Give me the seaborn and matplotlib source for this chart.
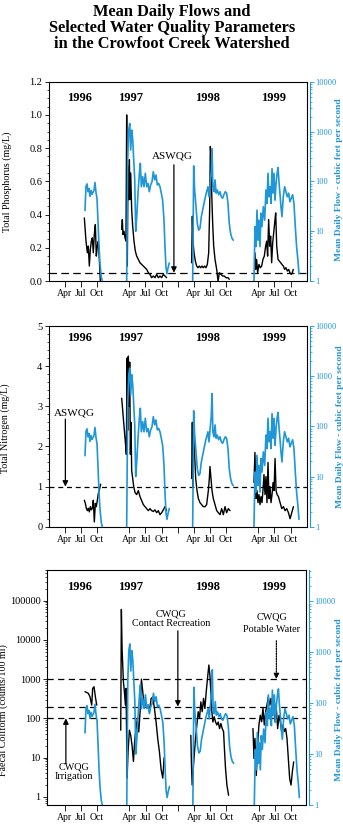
import numpy as np
import pandas as pd
import matplotlib
matplotlib.use("Agg")
import matplotlib.pyplot as plt
import matplotlib.transforms as mtransforms
from matplotlib.ticker import FixedLocator, LogLocator, NullFormatter, MultipleLocator
import seaborn as sns

# ---------------- data (x = months since 1 Jan 1996) ----------------
# Mean daily flow (cfs), same series in all panels
flow_1996_m = [6.75, 6.94, 7.13, 7.31, 7.50, 7.68, 7.87, 8.06, 8.24, 8.43, 8.61, 8.80, 8.99, 9.18, 9.36, 9.55, 9.79, 9.98]
flow_1996 = [26, 80, 89, 62, 72, 50, 66, 55, 60, 66, 95, 60, 45, 15, 5, 2.2, 1.2, 1.0]
flow_1997_m = [14.51, 14.70, 14.89, 15.08, 15.26, 15.45, 15.64, 15.82, 16.01, 16.19, 16.38, 16.62, 16.87, 17.05,
               17.24, 17.49, 17.73, 17.98, 18.23, 18.48, 18.72, 18.97, 19.22, 19.47, 19.72, 19.96, 20.21, 20.46,
               20.71, 20.95, 21.20, 21.45, 21.64, 21.82, 22.01, 22.19, 22.44]
flow_1997 = [1.0, 270, 1070, 1450, 425, 1070, 680, 270, 107, 10, 19.5, 58, 145, 230, 78, 124, 78, 145, 78, 91,
             62, 85, 98, 156, 107, 134, 85, 91, 78, 58, 42, 17, 4.9, 1.9, 1.4, 1.8, 2.3]
flow_1998_m = [26.79, 26.98, 27.16, 27.41, 27.66, 27.91, 28.15, 28.40, 28.65, 28.90, 29.15, 29.39, 29.64, 29.83,
               30.05, 30.25, 30.40, 30.55, 30.75, 30.95, 31.15, 31.38, 31.62, 31.87, 32.12, 32.37, 32.61, 32.86,
               33.11, 33.36, 33.61, 33.85, 34.10, 34.35]
flow_1998 = [1.0, 204, 67, 31, 14, 10.5, 11.4, 19.5, 26.5, 36, 49, 62, 78, 49, 91, 160, 450, 78, 62, 107, 58, 67,
             54, 62, 49, 46, 54, 62, 58, 36, 14, 9.1, 7.2, 6.6]
flow_1999_m = [38.20, 38.38, 38.57, 38.76, 38.95, 39.13, 39.32, 39.50, 39.69, 39.94, 40.19, 40.43, 40.62, 40.81,
               41.00, 41.18, 41.37, 41.56, 41.75, 41.93, 42.12, 42.31, 42.50, 42.68, 42.87, 43.03, 43.22, 43.41,
               43.65, 43.90, 44.15, 44.40, 44.65, 44.89, 45.14, 45.39, 45.64, 45.89, 46.13, 46.38, 46.57]
flow_1999 = [1.0, 12.3, 4.9, 26.5, 6.6, 16.7, 4.9, 23, 12.3, 31, 16.7, 67, 36, 145, 49, 78, 36, 180, 58, 145, 42,
             91, 145, 190, 91, 58, 31, 19.5, 49, 78, 62, 49, 58, 39, 46, 54, 36, 12.3, 4.9, 2.6, 1.4]

# Total phosphorus (mg/L)
tp_1996_m = [6.63, 6.94, 7.19, 7.37, 7.56, 7.75, 7.93, 8.12, 8.30, 8.49, 8.68, 8.86, 9.05, 9.24, 9.42, 9.61]
tp_1996 = [0.38, 0.24, 0.17, 0.21, 0.09, 0.19, 0.24, 0.26, 0.17, 0.28, 0.34, 0.15, 0.21, 0.24, 0.13, 0.0]
tp_1997_m = [13.58, 13.70, 13.82, 14.01, 14.20, 14.38, 14.51, 14.63, 14.76, 14.88, 15.01, 15.13, 15.26, 15.44,
             15.63, 15.87, 16.12, 16.37, 16.68, 16.99, 17.30, 17.61, 17.92, 18.23, 18.54, 18.85, 19.16, 19.47,
             19.78, 20.09, 20.40, 20.71, 21.02, 21.33, 21.64, 21.94]
tp_1997 = [0.31, 0.37, 0.28, 0.30, 0.26, 0.24, 1.0, 0.09, 0.69, 0.49, 0.73, 0.49, 0.65, 0.43, 0.33, 0.24, 0.18,
           0.15, 0.13, 0.11, 0.10, 0.09, 0.08, 0.07, 0.05, 0.04, 0.02, 0.03, 0.02, 0.04, 0.02, 0.03, 0.02, 0.04,
           0.03, 0.02]
tp_1998_m = [26.60, 26.73, 26.85, 27.04, 27.29, 27.54, 27.78, 28.03, 28.28, 28.53, 28.77, 29.02, 29.27, 29.52,
             29.77, 29.95, 30.08, 30.20, 30.33, 30.51, 30.70, 30.95, 31.26, 31.51, 31.76, 32.07, 32.38, 32.68,
             32.99, 33.37, 33.61]
tp_1998 = [0.11, 0.39, 0.24, 0.17, 0.12, 0.09, 0.08, 0.09, 0.08, 0.09, 0.08, 0.09, 0.08, 0.10, 0.17, 0.43, 0.81,
           0.75, 0.53, 0.35, 0.21, 0.13, 0.07, 0.0, 0.05, 0.04, 0.03, 0.03, 0.02, 0.02, 0.01]
tp_1999_m = [38.38, 38.51, 38.69, 38.88, 39.13, 39.38, 39.63, 39.87, 40.12, 40.37, 40.56, 40.74, 40.93, 41.12,
             41.30, 41.49, 41.68, 41.87, 42.05, 42.24, 42.43, 42.68, 42.92, 43.17, 43.41, 43.66, 43.91, 44.15,
             44.40, 44.65, 44.89, 45.14, 45.33, 45.51]
tp_1999 = [0.17, 0.07, 0.13, 0.05, 0.10, 0.08, 0.09, 0.13, 0.15, 0.21, 0.24, 0.15, 0.37, 0.21, 0.27, 0.11, 0.23,
           0.29, 0.35, 0.41, 0.21, 0.13, 0.12, 0.11, 0.10, 0.09, 0.07, 0.08, 0.06, 0.07, 0.05, 0.04, 0.05, 0.07]

# Total nitrogen (mg/L)
tn_1996_m = [6.63, 6.82, 7.00, 7.19, 7.37, 7.56, 7.75, 7.93, 8.12, 8.30, 8.49, 8.68, 8.86, 9.05, 9.24, 9.42, 9.67]
tn_1996 = [0.66, 0.58, 0.46, 0.40, 0.46, 0.37, 0.50, 0.42, 0.46, 0.66, 0.12, 0.58, 0.50, 0.66, 0.83, 0.91, 1.06]
tn_1997_m = [13.58, 13.77, 13.95, 14.14, 14.33, 14.45, 14.57, 14.70, 14.82, 14.95, 15.07, 15.20, 15.32, 15.44,
             15.63, 15.82, 16.07, 16.37, 16.68, 16.99, 17.30, 17.61, 17.92, 18.23, 18.54, 18.85, 19.16, 19.47,
             19.78, 20.09, 20.40, 20.71, 21.02, 21.33, 21.64, 21.94]
tn_1997 = [3.2, 2.9, 2.6, 2.3, 2.0, 1.8, 4.2, 2.4, 4.25, 3.0, 4.1, 1.8, 2.6, 1.4, 1.2, 1.0, 0.85, 0.8, 0.9, 0.75,
           0.65, 0.55, 0.5, 0.45, 0.4, 0.45, 0.4, 0.38, 0.42, 0.35, 0.4, 0.3, 0.35, 0.42, 0.5, 0.4]
tn_1998_m = [26.60, 26.73, 26.85, 26.98, 27.16, 27.35, 27.60, 27.85, 28.15, 28.46, 28.77, 29.09, 29.39, 29.71,
             29.89, 30.01, 30.20, 30.39, 30.63, 30.95, 31.26, 31.57, 31.88, 32.19, 32.50, 32.81, 33.11, 33.43, 33.74]
tn_1998 = [1.2, 2.6, 1.0, 2.5, 1.8, 1.2, 0.9, 0.7, 0.6, 0.55, 0.5, 0.5, 0.55, 0.9, 1.2, 1.5, 1.2, 0.9, 0.7, 0.55,
           0.4, 0.35, 0.3, 0.45, 0.3, 0.5, 0.35, 0.45, 0.4]
tn_1999_m = [38.20, 38.38, 38.57, 38.76, 38.95, 39.13, 39.32, 39.50, 39.69, 39.87, 40.06, 40.25, 40.43, 40.62,
             40.81, 40.99, 41.18, 41.37, 41.56, 41.75, 41.93, 42.12, 42.31, 42.50, 42.75, 43.06, 43.37, 43.68,
             43.99, 44.30, 44.61, 44.92, 45.23, 45.54]
tn_1999 = [1.1, 1.85, 0.7, 0.9, 0.6, 0.8, 0.55, 0.75, 0.6, 0.9, 1.3, 0.8, 1.25, 0.6, 1.6, 0.7, 1.0, 0.6, 0.8, 1.1,
           0.9, 1.7, 0.9, 0.8, 0.75, 0.6, 0.45, 0.5, 0.4, 0.45, 0.35, 0.2, 0.35, 0.5]

# Faecal coliform (counts/100 ml)
fc_1996_m = [6.75, 7.37, 7.68, 8.00, 8.18, 8.43, 8.68, 8.93]
fc_1996 = [480, 435, 355, 218, 580, 640, 355, 218]
fc_1997_m = [13.39, 13.51, 13.64, 13.89, 14.07, 14.26, 14.38, 14.57, 14.75, 15.00, 15.25, 15.50, 15.75, 16.00,
             16.24, 16.49, 16.74, 16.99, 17.23, 17.48, 17.73, 17.98, 18.23, 18.47, 18.72, 19.03, 19.34, 19.65,
             19.96, 20.27, 20.58, 20.89, 21.20, 21.45]
fc_1997 = [50, 60000, 6000, 850, 480, 220, 580, 3, 14, 50, 37, 20, 8, 30, 55, 100, 45, 150, 1000, 480, 220, 260,
           180, 220, 150, 320, 350, 180, 80, 30, 14, 5, 3, 10]
fc_1998_m = [26.41, 26.53, 26.66, 26.91, 27.09, 27.28, 27.53, 27.78, 28.03, 28.27, 28.52, 28.77, 29.02, 29.27,
             29.51, 29.76, 29.95, 30.13, 30.32, 30.51, 30.75, 31.00, 31.25, 31.50, 31.75, 31.99, 32.24, 32.49,
             32.68, 32.86, 33.11, 33.42]
fc_1998 = [37, 6.5, 2, 6.5, 14, 31, 68, 148, 100, 263, 148, 324, 178, 479, 1050, 2290, 1260, 479, 148, 81, 110,
           81, 68, 81, 55, 74, 55, 46, 14, 5.2, 2, 1.1]
fc_1999_m = [37.95, 38.14, 38.32, 38.57, 38.82, 39.06, 39.31, 39.56, 39.81, 40.06, 40.30, 40.55, 40.80, 41.05,
             41.30, 41.55, 41.79, 42.04, 42.29, 42.54, 42.79, 43.03, 43.28, 43.53, 43.78, 44.03, 44.27, 44.52,
             44.77, 45.02, 45.27, 45.51]
fc_1999 = [55, 9.5, 31, 3.5, 21, 68, 120, 82, 180, 68, 148, 218, 355, 218, 324, 120, 218, 82, 180, 55, 120, 82,
           46, 68, 46, 55, 31, 9.5, 2.9, 2, 4.4, 7.8]

years = ["1996", "1997", "1998", "1999"]
year_label_m = [5.75, 15.3, 29.5, 41.75]
tick_m = [3, 6, 9, 15, 18, 21, 24, 27, 30, 33, 39, 42, 45]
tick_lab = ["Apr", "Jul", "Oct", "Apr", "Jul", "Oct", "", "Apr", "Jul", "Oct", "Apr", "Jul", "Oct"]

tp_guideline = 0.05
tn_guideline = 1.0
fc_guidelines = [1000, 200, 100]

# ---------------- helpers ----------------
def make_df(pairs):
    frames = []
    for i, (m, v) in enumerate(pairs):
        frames.append(pd.DataFrame({"m": m, "v": v, "seg": i}))
    return pd.concat(frames, ignore_index=True)

flow_df = make_df([(flow_1996_m, flow_1996), (flow_1997_m, flow_1997),
                   (flow_1998_m, flow_1998), (flow_1999_m, flow_1999)])
tp_df = make_df([(tp_1996_m, tp_1996), (tp_1997_m, tp_1997), (tp_1998_m, tp_1998), (tp_1999_m, tp_1999)])
tn_df = make_df([(tn_1996_m, tn_1996), (tn_1997_m, tn_1997), (tn_1998_m, tn_1998), (tn_1999_m, tn_1999)])
fc_df = make_df([(fc_1996_m, fc_1996), (fc_1997_m, fc_1997), (fc_1998_m, fc_1998), (fc_1999_m, fc_1999)])

sns.set_style("ticks")
plt.rcParams["font.family"] = ["Liberation Serif", "DejaVu Serif"]
plt.rcParams.update({"axes.linewidth": 0.8, "text.color": "black", "axes.labelcolor": "black",
                     "xtick.color": "black", "ytick.color": "black", "axes.edgecolor": "black"})

BLUE = "#1e96d7"
fig = plt.figure(figsize=(3.43, 8.27), dpi=100)
fig.patch.set_facecolor("white")

fig.text(0.502, 1 - 27.5 / 827, "Mean Daily Flows and\nSelected Water Quality Parameters\nin the Crowfoot Creek Watershed",
         ha="center", va="center", fontsize=11.8, fontweight="bold", linespacing=1.0, color="black")

specs = [
    dict(rect=[0.142, 0.6602, 0.752, 0.241], df=tp_df, ylabel="Total Phosphorus (mg/L)", xlim=(0, 48),
         flow_top=10000, yr_y=0.918, label_x=-0.142, label_y=0.5, rlabel_x=1.11, rlabel_y=0.51),
    dict(rect=[0.142, 0.3631, 0.752, 0.2427], df=tn_df, ylabel="Total Nitrogen (mg/L)", xlim=(0, 48),
         flow_top=10000, yr_y=0.939, label_x=-0.15, label_y=0.49, rlabel_x=1.113, rlabel_y=0.5),
    dict(rect=[0.136, 0.0266, 0.755, 0.284], df=fc_df, ylabel="Faecal Coliform (counts/100 ml)", xlim=(-0.37, 47.73),
         flow_top=40700, yr_y=0.929, label_x=-0.148, label_y=0.405, rlabel_x=1.115, rlabel_y=0.45),
]

axes = []
for i, s in enumerate(specs):
    ax = fig.add_axes(s["rect"])
    sns.lineplot(data=s["df"], x="m", y="v", units="seg", estimator=None, sort=False,
                 color="black", lw=1.0, ax=ax, legend=False)
    ax.set_xlim(*s["xlim"])
    ax.set_xlabel("")
    ax.set_ylabel(s["ylabel"], fontsize=7.2, color="black")
    ax.yaxis.set_label_coords(s["label_x"], s["label_y"])
    for sp in ax.spines.values():
        sp.set_color("black")
        sp.set_linewidth(0.8)
    ax.xaxis.set_major_locator(FixedLocator(tick_m))
    ax.set_xticklabels(tick_lab)
    ax.tick_params(axis="x", direction="out", length=4, width=0.6, labelsize=7, pad=2, colors="black")
    ax.tick_params(axis="y", direction="out", length=3, width=0.6, labelsize=7.5, pad=1.5, colors="black")
    ax.tick_params(axis="y", which="minor", direction="out", length=1.8, width=0.5, colors="black")

    tw = ax.twinx()
    sns.lineplot(data=flow_df, x="m", y="v", units="seg", estimator=None, sort=False,
                 color=BLUE, lw=1.2, ax=tw, legend=False)
    tw.set_yscale("log")
    tw.set_ylim(1, s["flow_top"])
    tw.set_xlim(*s["xlim"])
    tw.set_xlabel("")
    for k in ["left", "top", "bottom"]:
        tw.spines[k].set_visible(False)
    tw.spines["right"].set_position(("outward", 2.5))
    tw.spines["right"].set_color(BLUE)
    tw.spines["right"].set_linewidth(0.8)
    tw.set_yticks([1, 10, 100, 1000, 10000])
    tw.set_yticklabels(["1", "10", "100", "1000", "10000"])
    tw.yaxis.set_minor_locator(LogLocator(base=10, subs=np.arange(2, 10), numticks=20))
    tw.yaxis.set_minor_formatter(NullFormatter())
    tw.tick_params(axis="y", which="both", colors=BLUE, labelsize=6, pad=1)
    tw.tick_params(axis="y", which="major", direction="out", length=3, width=0.6)
    tw.tick_params(axis="y", which="minor", direction="out", length=1.6, width=0.5)
    tw.set_ylabel("Mean Daily Flow - cubic feet per second", color=BLUE, fontsize=6.8, fontweight="bold")
    tw.yaxis.set_label_coords(s["rlabel_x"], s["rlabel_y"])
    tw.set_ylim(1, s["flow_top"])

    trans = mtransforms.blended_transform_factory(ax.transData, ax.transAxes)
    for yl, ym in zip(years, year_label_m):
        ax.text(ym, s["yr_y"], yl, transform=trans, ha="center", va="center",
                fontsize=9, fontweight="bold", color="black")
    axes.append((ax, tw))

arrow_kw = dict(arrowstyle="-|>", color="black", lw=0.9, mutation_scale=8, shrinkA=0, shrinkB=0)

# Panel 1: phosphorus
ax, tw = axes[0]
ax.set_ylim(0, 1.2)
ax.yaxis.set_major_locator(FixedLocator([0, 0.2, 0.4, 0.6, 0.8, 1.0, 1.2]))
ax.set_yticklabels(["0.0", "0.2", "0.4", "0.6", "0.8", "1.0", "1.2"])
ax.yaxis.set_minor_locator(MultipleLocator(0.05))
ax.axhline(tp_guideline, color="black", lw=0.9, ls=(0, (6, 3.5)))
ax.text(23.0, 0.75, "ASWQG", ha="center", va="center", fontsize=8, color="black")
ax.annotate("", xy=(23.3, tp_guideline), xytext=(23.3, 0.70), arrowprops=arrow_kw)

# Panel 2: nitrogen
ax, tw = axes[1]
ax.set_ylim(0, 5)
ax.yaxis.set_major_locator(FixedLocator([0, 1, 2, 3, 4, 5]))
ax.set_yticklabels(["0", "1", "2", "3", "4", "5"])
ax.yaxis.set_minor_locator(MultipleLocator(0.2))
ax.axhline(tn_guideline, color="black", lw=0.9, ls=(0, (4, 3)))
ax.text(4.8, 2.83, "ASWQG", ha="center", va="center", fontsize=8, color="black")
ax.annotate("", xy=(3.1, tn_guideline), xytext=(3.1, 2.68), arrowprops=arrow_kw)

# Panel 3: faecal coliform
ax, tw = axes[2]
ax.set_yscale("log")
ax.set_ylim(0.62, 6.0e5)
ax.yaxis.set_major_locator(FixedLocator([1, 10, 100, 1000, 10000, 100000]))
ax.set_yticklabels(["1", "10", "100", "1000", "10000", "100000"])
ax.yaxis.set_minor_locator(LogLocator(base=10, subs=np.arange(2, 10), numticks=20))
ax.yaxis.set_minor_formatter(NullFormatter())
for g in fc_guidelines:
    ax.axhline(g, color="black", lw=0.9, ls=(0, (5, 3.5)))
ax.text(4.7, 4.3, "CWQG\nIrrigation", ha="center", va="center", fontsize=7.3, linespacing=1.1, color="black")
ax.annotate("", xy=(3.2, 100), xytext=(3.2, 7.0), arrowprops=arrow_kw)
ax.text(22.8, 35000, "CWQG\nContact Recreation", ha="center", va="center", fontsize=7.3, linespacing=1.1,
        color="black")
ax.annotate("", xy=(24.0, 200), xytext=(24.0, 17000), arrowprops=arrow_kw)
ax.text(41.4, 27000, "CWQG\nPotable Water", ha="center", va="center", fontsize=7.3, linespacing=1.5, color="black")
arrow_dot = dict(arrow_kw)
arrow_dot["linestyle"] = (0, (1, 1))
ax.annotate("", xy=(42.3, 1000), xytext=(42.3, 9500), arrowprops=arrow_dot)

fig.savefig("out.png", dpi=100)
